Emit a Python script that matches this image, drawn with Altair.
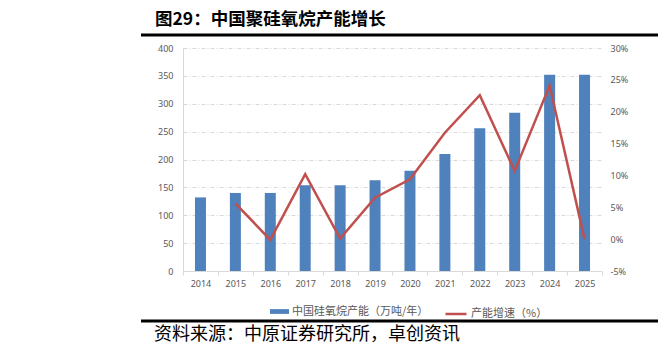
import altair as alt
import pandas as pd

years = ["2014", "2015", "2016", "2017", "2018", "2019", "2020", "2021", "2022", "2023", "2024", "2025"]
capacity = [132, 140, 140, 154, 154, 163, 180, 210, 256, 284, 352, 352]
growth = [None, 5.6, -0.1, 10.2, 0.1, 6.5, 9.4, 16.7, 22.6, 10.7, 24.1, 0.0]
bar_name = "中国硅氧烷产能（万吨/年）"
line_name = "产能增速（%）"
title_text = ["图29：中国聚硅氧烷产能增长"]
source_text = ["资料来源：中原证券研究所，卓创资讯"]
left_ticks = [0, 50, 100, 150, 200, 250, 300, 350, 400]
right_ticks = [-5, 0, 5, 10, 15, 20, 25, 30]

df = pd.DataFrame({"year": years, "capacity": capacity, "growth": growth})
df["s1"] = bar_name
df["s2"] = line_name

AX = "Noto Sans"
CJK = "Noto Sans CJK SC"
GRAY = "#595959"
LG = "#D9D9D9"

x_enc = alt.X("year:O", scale=alt.Scale(paddingInner=0, paddingOuter=0),
              axis=alt.Axis(title=None, labelAngle=0, domainColor=LG, tickColor=LG,
                            tickSize=4, tickBand="extent", labelPadding=4,
                            labelFont=AX, labelFontSize=9, labelColor=GRAY))

bars = alt.Chart(df).mark_bar(size=11).encode(
    x=x_enc,
    y=alt.Y("capacity:Q", scale=alt.Scale(domain=[0, 400], nice=False),
            axis=alt.Axis(title=None, values=left_ticks, grid=True, gridColor=LG,
                          gridDash=[4, 2, 1, 2], domain=True, domainColor=LG, ticks=False,
                          labelPadding=10, labelFont=AX, labelFontSize=9, labelColor=GRAY)),
    fill=alt.Fill("s1:N", scale=alt.Scale(domain=[bar_name], range=["#4F81BD"]),
                  legend=alt.Legend(title=None, orient="none", legendX=87, legendY=254,
                                    symbolType="M-1,-0.25H1V0.25H-1Z", symbolSize=361,
                                    symbolStrokeWidth=0, labelOffset=3, padding=0,
                                    labelFont=CJK, labelFontSize=11, labelColor=GRAY)),
)

line = alt.Chart(df).mark_line(strokeWidth=2.5).encode(
    x=alt.X("year:O"),
    y=alt.Y("growth:Q", scale=alt.Scale(domain=[-5, 30], nice=False),
            axis=alt.Axis(title=None, orient="right", values=right_ticks, grid=False,
                          domain=False, ticks=False, labelPadding=8,
                          labelExpr="datum.value + '%'",
                          labelFont=AX, labelFontSize=9, labelColor=GRAY)),
    stroke=alt.Stroke("s2:N", scale=alt.Scale(domain=[line_name], range=["#C0504D"]),
                      legend=alt.Legend(title=None, orient="none", legendX=261, legendY=254,
                                        symbolType="stroke", symbolSize=441,
                                        symbolStrokeWidth=2.5, labelOffset=3, padding=0,
                                        labelFont=CJK, labelFontSize=11, labelColor=GRAY)),
)

title = alt.Chart(pd.DataFrame({"t": title_text})).mark_text(
    align="left", baseline="middle", font=CJK, fontSize=17.5, fontWeight="bold", color="#000"
).encode(x=alt.value(-28), y=alt.value(-28.5), text="t:N")

source = alt.Chart(pd.DataFrame({"t": source_text})).mark_text(
    align="left", baseline="middle", font=CJK, fontSize=18, color="#000"
).encode(x=alt.value(-29), y=alt.value(287), text="t:N")

top_rule = alt.Chart(pd.DataFrame({"a": [0]})).mark_rule(color="#000", strokeWidth=3).encode(
    x=alt.value(-42), x2=alt.value(475), y=alt.value(-13))
bot_rule = alt.Chart(pd.DataFrame({"a": [0]})).mark_rule(color="#000", strokeWidth=3).encode(
    x=alt.value(-42), x2=alt.value(475), y=alt.value(273))

chart = alt.layer(bars, line, title, source, top_rule, bot_rule).resolve_scale(
    y="independent"
).properties(
    width=419, height=223,
    autosize=alt.AutoSizeParams(type="none"),
    padding={"left": 183, "top": 48, "right": 56, "bottom": 84},
    background="white",
).configure_view(stroke=None)

chart.save("out.html", embed_options={"renderer": "svg", "actions": False})
